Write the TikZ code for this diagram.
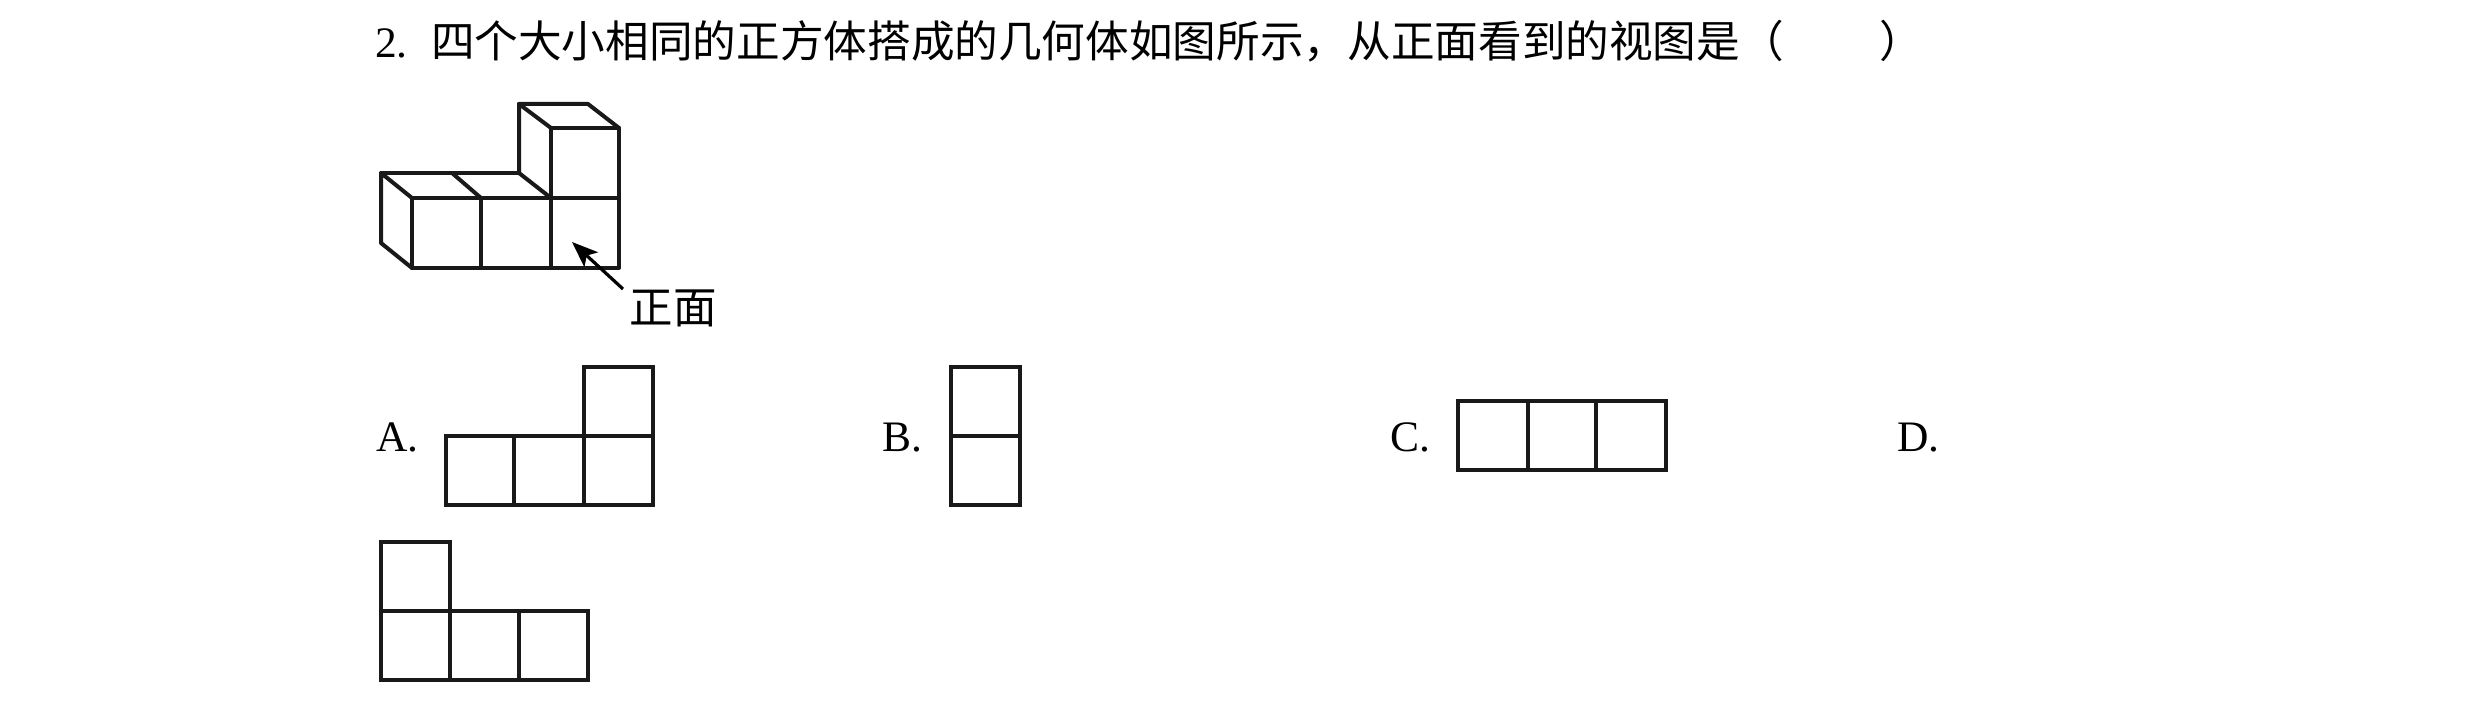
\documentclass[tikz,border=0pt]{standalone}
\usepackage{fontspec}
\setmainfont{Liberation Serif}
\newfontfamily\cjk{Noto Sans CJK SC}
\usetikzlibrary{arrows.meta}
\tikzset{
  px/.style={x=0.5pt,y=-0.5pt},
  cubeline/.style={line width=2pt,line join=round,line cap=round,black!90},
  gridline/.style={line width=1.8pt,line join=miter,black!90},
  label/.style={inner sep=0pt,outer sep=0pt,anchor=base west,font=\fontsize{21.75pt}{26pt}\selectfont},
  cjklabel/.style={inner sep=0pt,outer sep=0pt,font=\fontsize{21.75pt}{26pt}\selectfont\cjk},
  pointer/.style={line width=1.6pt,-{Stealth[length=13pt,width=10pt,inset=3pt]}}
}
\begin{document}
\begin{tikzpicture}[px]
\useasboundingbox (0,0) rectangle (2480,705);
\node[label] (title) at (375,58) {2.\hspace{11.7pt}{\cjk\fontsize{21.82pt}{26pt}\selectfont 四个大小相同的正方体搭成的几何体如图所示，从正面看到的视图是（\hspace{48pt}）}};
% solid figure
\draw[cubeline] (412,198) rectangle (619,268);
\draw[cubeline] (481,198) -- (481,268) (551,128) -- (551,268);
\draw[cubeline] (551,128) rectangle (619,198);
\draw[cubeline] (412,198) -- (381,173) -- (381,243) -- (412,268);
\draw[cubeline] (381,173) -- (519,173);
\draw[cubeline] (452,173) -- (481,198);
\draw[cubeline] (519,173) -- (551,198);
\draw[cubeline] (519,173) -- (519,104) -- (588,104) -- (619,128);
\draw[cubeline] (519,104) -- (551,128);
\coordinate (tail) at (623,289);
\coordinate (tip) at (572,242);
\draw[pointer] (tail) -- (tip);
\node[cjklabel] (front) at (673,308) {正面};
% options
\node[label] (la) at (376,452) {A.};
\draw[gridline] (446,436) rectangle (653,505);
\draw[gridline] (514,436) -- (514,505) (584,367) -- (584,505);
\draw[gridline] (584,367) rectangle (653,436);
\node[label] (lb) at (882,452) {B.};
\draw[gridline] (951,367) rectangle (1020,505);
\draw[gridline] (951,436) -- (1020,436);
\node[label] (lc) at (1390,452) {C.};
\draw[gridline] (1458,401) rectangle (1666,470);
\draw[gridline] (1528,401) -- (1528,470) (1596,401) -- (1596,470);
\node[label] (ld) at (1897,452) {D.};
\draw[gridline] (381,611) rectangle (588,680);
\draw[gridline] (450,542) -- (450,680) (519,611) -- (519,680);
\draw[gridline] (381,542) rectangle (450,611);
\end{tikzpicture}
\end{document}
